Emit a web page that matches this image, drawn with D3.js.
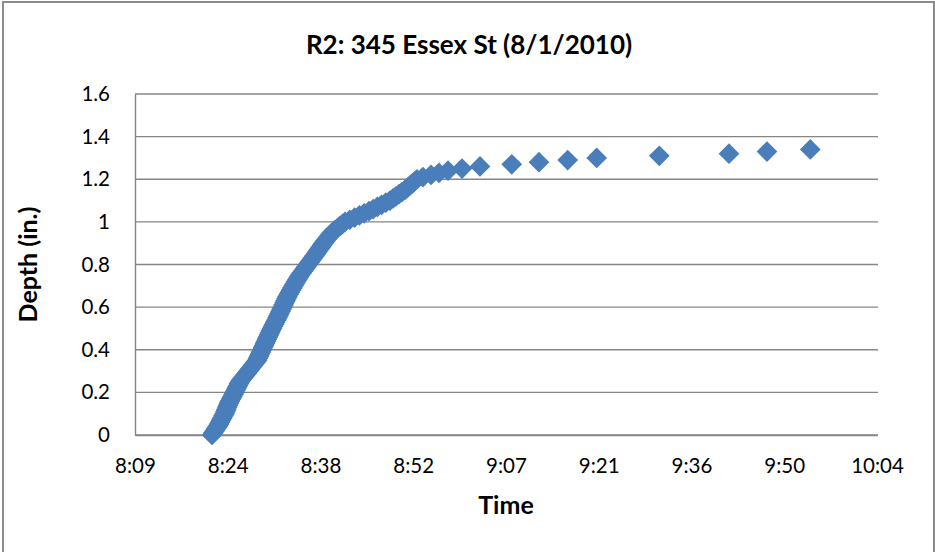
<!DOCTYPE html>
<html>
<head>
<meta charset="utf-8">
<script src="https://cdn.jsdelivr.net/npm/d3@7"></script>
<style>
  html, body { margin: 0; padding: 0; background: #fff; }
  svg { display: block; }
  text { font-family: Lato, "Open Sans", sans-serif; fill: #000; }
</style>
</head>
<body>
<svg id="chart" width="935" height="552"></svg>
<script>
// ---- data ----
const title = "R2: 345 Essex St (8/1/2010)";
const xTitle = "Time";
const yTitle = "Depth (in.)";

// depth readings (in.)
const depths = [
  0.00, 0.01, 0.02, 0.03, 0.04, 0.05, 0.06, 0.07, 0.08, 0.09,
  0.10, 0.11, 0.12, 0.13, 0.14, 0.15, 0.16, 0.17, 0.18, 0.19,
  0.20, 0.21, 0.22, 0.23, 0.24, 0.25, 0.26, 0.27, 0.28, 0.29,
  0.30, 0.31, 0.32, 0.33, 0.34, 0.35, 0.36, 0.37, 0.38, 0.39,
  0.40, 0.41, 0.42, 0.43, 0.44, 0.45, 0.46, 0.47, 0.48, 0.49,
  0.50, 0.51, 0.52, 0.53, 0.54, 0.55, 0.56, 0.57, 0.58, 0.59,
  0.60, 0.61, 0.62, 0.63, 0.64, 0.65, 0.66, 0.67, 0.68, 0.69,
  0.70, 0.71, 0.72, 0.73, 0.74, 0.75, 0.76, 0.77, 0.78, 0.79,
  0.80, 0.81, 0.82, 0.83, 0.84, 0.85, 0.86, 0.87, 0.88, 0.89,
  0.90, 0.91, 0.92, 0.93, 0.94, 0.95, 0.96, 0.97, 0.98, 0.99,
  1.00, 1.01, 1.02, 1.03, 1.04, 1.05, 1.06, 1.07, 1.08, 1.09,
  1.10, 1.11, 1.12, 1.13, 1.14, 1.15, 1.16, 1.17, 1.18, 1.19,
  1.20, 1.21, 1.22, 1.23, 1.24, 1.25, 1.26, 1.27, 1.28, 1.29,
  1.30, 1.31, 1.32, 1.33, 1.34
];

// time of each reading, minutes after 8:00
const minutesAfter8 = [
  21.55, 21.77, 21.99, 22.20, 22.42, 22.64, 22.81, 22.98, 23.16, 23.33,
  23.50, 23.64, 23.78, 23.91, 24.05, 24.19, 24.36, 24.53, 24.71, 24.88,
  25.05, 25.22, 25.39, 25.56, 25.73, 25.90, 26.16, 26.43, 26.69, 26.96,
  27.22, 27.48, 27.75, 28.01, 28.28, 28.54, 28.70, 28.85, 29.01, 29.16,
  29.32, 29.47, 29.63, 29.78, 29.94, 30.09, 30.25, 30.40, 30.56, 30.71,
  30.87, 31.04, 31.21, 31.38, 31.55, 31.72, 31.88, 32.03, 32.19, 32.34,
  32.50, 32.66, 32.81, 32.97, 33.12, 33.28, 33.47, 33.65, 33.84, 34.02,
  34.21, 34.41, 34.61, 34.82, 35.02, 35.22, 35.47, 35.72, 35.96, 36.21,
  36.46, 36.71, 36.96, 37.20, 37.45, 37.70, 37.93, 38.17, 38.40, 38.64,
  38.87, 39.13, 39.40, 39.66, 39.93, 40.19, 40.59, 41.00, 41.40, 41.80,
  42.20, 42.95, 43.69, 44.44, 45.18, 45.93, 46.58, 47.23, 47.89, 48.54,
  49.19, 49.66, 50.12, 50.59, 51.05, 51.52, 51.89, 52.26, 52.64, 53.01,
  53.38, 54.31, 55.56, 56.80, 58.20, 60.37, 63.16, 68.09, 72.32, 76.78,
  81.28, 91.00, 101.82, 107.72, 114.44
];

// axis ticks (minutes since midnight; Excel 0.01-day steps)
const xTickMinutes = [489.6, 504.0, 518.4, 532.8, 547.2, 561.6, 576.0, 590.4, 604.8];
const xTickLabels = ["8:09", "8:24", "8:38", "8:52", "9:07", "9:21", "9:36", "9:50", "10:04"];
const yTicks = [0, 0.2, 0.4, 0.6, 0.8, 1, 1.2, 1.4, 1.6];
const yTickLabels = ["0", "0.2", "0.4", "0.6", "0.8", "1", "1.2", "1.4", "1.6"];

// ---- layout ----
const W = 935, H = 552;
const plot = { left: 135, right: 877, top: 94, bottom: 435 };
const gridColor = "#868686";
const markerColor = "#4a7ebb";

const svg = d3.select("#chart");

// outer frame
svg.append("rect")
  .attr("x", 3).attr("y", 2)
  .attr("width", 931).attr("height", 570)
  .attr("fill", "#fff")
  .attr("stroke", "#8c8c8c")
  .attr("stroke-width", 2);

const x = d3.scaleLinear()
  .domain([xTickMinutes[0], xTickMinutes[xTickMinutes.length - 1]])
  .range([plot.left, plot.right]);
const y = d3.scaleLinear()
  .domain([0, 1.6])
  .range([plot.bottom, plot.top]);

// horizontal gridlines
svg.append("g")
  .selectAll("line")
  .data(yTicks)
  .join("line")
  .attr("x1", plot.left).attr("x2", plot.right + 1)
  .attr("y1", d => y(d)).attr("y2", d => y(d))
  .attr("stroke", gridColor)
  .attr("stroke-width", 1.4);

// y axis
const yAxis = d3.axisLeft(y)
  .tickValues(yTicks)
  .tickFormat((d, i) => yTickLabels[i])
  .tickSize(0)
  .tickPadding(25);
const gy = svg.append("g")
  .attr("transform", `translate(${plot.left},0)`)
  .call(yAxis);
gy.select(".domain").attr("stroke", gridColor).attr("stroke-width", 1.4);
gy.selectAll("text")
  .style("font-family", "Lato, sans-serif")
  .style("font-size", "20.5px")
  .attr("fill", "#000");

// x axis
const xAxis = d3.axisBottom(x)
  .tickValues(xTickMinutes)
  .tickFormat((d, i) => xTickLabels[i])
  .tickSize(0)
  .tickPadding(23);
const gx = svg.append("g")
  .attr("transform", `translate(0,${plot.bottom})`)
  .call(xAxis);
gx.select(".domain").attr("stroke", gridColor).attr("stroke-width", 1.4);
gx.selectAll("text")
  .style("font-family", "Lato, sans-serif")
  .style("font-size", "20.5px")
  .attr("fill", "#000");

// markers
const points = depths.map((d, i) => ({ t: 480 + minutesAfter8[i], d }));
const diamond = d3.symbol().type(d3.symbolSquare).size(215);
svg.append("g")
  .selectAll("path")
  .data(points)
  .join("path")
  .attr("d", diamond)
  .attr("transform", p => `translate(${x(p.t)},${y(p.d)}) rotate(45)`)
  .attr("fill", markerColor);

// titles
svg.append("text")
  .attr("x", 469).attr("y", 54)
  .attr("text-anchor", "middle")
  .style("font-size", "26px")
  .style("font-weight", "bold")
  .text(title);

svg.append("text")
  .attr("x", (plot.left + plot.right) / 2).attr("y", 514)
  .attr("text-anchor", "middle")
  .style("font-size", "25px")
  .style("font-weight", "bold")
  .text(xTitle);

svg.append("text")
  .attr("transform", `translate(37,${(plot.top + plot.bottom) / 2}) rotate(-90)`)
  .attr("text-anchor", "middle")
  .style("font-size", "25px")
  .style("font-weight", "bold")
  .text(yTitle);
</script>
</body>
</html>
